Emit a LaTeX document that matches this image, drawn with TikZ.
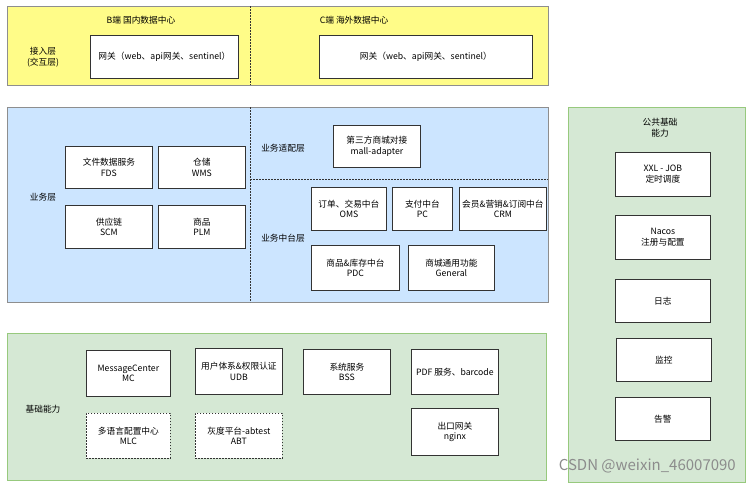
\documentclass[tikz,border=0pt]{standalone}
\usepackage{fontspec}
\setmainfont{Noto Sans CJK SC}
\usetikzlibrary{positioning}
\definecolor{yel}{HTML}{FFFC88}
\definecolor{blu}{HTML}{CCE5FF}
\definecolor{grn}{HTML}{D5E8D4}
\definecolor{grnb}{HTML}{97C97D}
\definecolor{pgray}{HTML}{8E8E8E}
\definecolor{edge}{HTML}{333333}
\tikzset{
  panel/.style={draw=pgray, line width=0.9pt, anchor=north west, inner sep=0pt},
  box/.style={draw=edge, fill=white, line width=0.8pt, anchor=north west, align=center, inner sep=1pt,
    font=\fontsize{8.7}{10.8}\selectfont},
  dbox/.style={box, dash pattern=on 1.6pt off 1.4pt},
  lbl/.style={align=center, font=\fontsize{8.7}{10.8}\selectfont, inner sep=0pt},
  divider/.style={draw=edge, line width=0.8pt, dash pattern=on 1.6pt off 1.4pt},
}
\newcommand{\bx}[6]{\node[#1, minimum width=#4pt, minimum height=#5pt] (#2) at (#3) {#6};}
\begin{document}
\begin{tikzpicture}[x=1pt,y=-1pt]
\useasboundingbox[fill=white] (0,0) rectangle (750,485);
% panels
\node[panel, fill=yel, minimum width=541pt, minimum height=79pt] (access) at (7,6) {};
\node[panel, fill=blu, minimum width=541pt, minimum height=195pt] (biz) at (7,107) {};
\node[panel, fill=grn, draw=grnb, minimum width=539pt, minimum height=147pt] (base) at (7,333) {};
\node[panel, fill=grn, draw=grnb, minimum width=177pt, minimum height=375pt] (pub) at (568,107) {};
% dividers
\coordinate (d1t) at (250,6); \coordinate (d1b) at (250,85);
\draw[divider] (d1t) -- (d1b);
\coordinate (d2t) at (250,107); \coordinate (d2b) at (250,302);
\draw[divider] (d2t) -- (d2b);
\coordinate (d3l) at (250,179); \coordinate (d3r) at (548,179);
\draw[divider] (d3l) -- (d3r);
% access layer
\node[lbl] (tB) at (141,20) {B端 国内数据中心};
\node[lbl] (tC) at (354,20) {C端 海外数据中心};
\node[lbl] (accl) at (43,57) {接入层\\(交互层)};
\bx{box}{gw1}{90,35}{148}{43}{网关（web、api网关、sentinel）}
\bx{box}{gw2}{319,35}{213}{43}{网关（web、api网关、sentinel）}
% business layer
\node[lbl] (bizl) at (43,197) {业务层};
\bx{box}{fds}{65,146}{87}{42}{文件数据服务\\FDS}
\bx{box}{wms}{158,146}{87}{42}{仓储\\WMS}
\bx{box}{scm}{65,205}{87}{43}{供应链\\SCM}
\bx{box}{plm}{158,205}{87}{43}{商品\\PLM}
\node[lbl] (adpl) at (283,148) {业务适配层};
\bx{box}{mall}{333,125}{87}{42}{第三方商城对接\\mall-adapter}
\node[lbl] (midl) at (283,238) {业务中台层};
\bx{box}{oms}{311,187}{75}{43}{订单、交易中台\\OMS}
\bx{box}{pc}{392,187}{60}{43}{支付中台\\PC}
\bx{box}{crm}{459,187}{87}{43}{会员\&营销\&订阅中台\\CRM}
\bx{box}{pdc}{311,245}{88}{45}{商品\&库存中台\\PDC}
\bx{box}{gen}{408,245}{86}{45}{商城通用功能\\General}
% base layer
\node[lbl] (basel) at (43,409) {基础能力};
\bx{box}{mc}{86,350}{84}{46}{MessageCenter\\MC}
\bx{box}{udb}{195,348}{87}{46}{用户体系\&权限认证\\UDB}
\bx{box}{bss}{303,349}{87}{45}{系统服务\\BSS}
\bx{box}{pdf}{411,349}{87}{45}{PDF 服务、barcode}
\bx{dbox}{mlc}{86,413}{84}{45}{多语言配置中心\\MLC}
\bx{dbox}{abt}{195,413}{87}{45}{灰度平台-abtest\\ABT}
\bx{box}{nginx}{411,408}{87}{47}{出口网关\\nginx}
% public
\node[lbl] (publ) at (660,128) {公共基础\\能力};
\bx{box}{xxl}{615,152}{95}{44}{XXL - JOB\\定时调度}
\bx{box}{nacos}{615,215}{95}{44}{Nacos\\注册与配置}
\bx{box}{log}{615,279}{95}{43}{日志}
\bx{box}{mon}{616,338}{95}{43}{监控}
\bx{box}{alarm}{615,397}{95}{43}{告警}
% watermark
\node[font=\fontsize{15}{16}\selectfont, text=black!45, inner sep=0pt, anchor=east] (wm) at (736,466) {CSDN @weixin\_46007090};
\end{tikzpicture}
\end{document}
